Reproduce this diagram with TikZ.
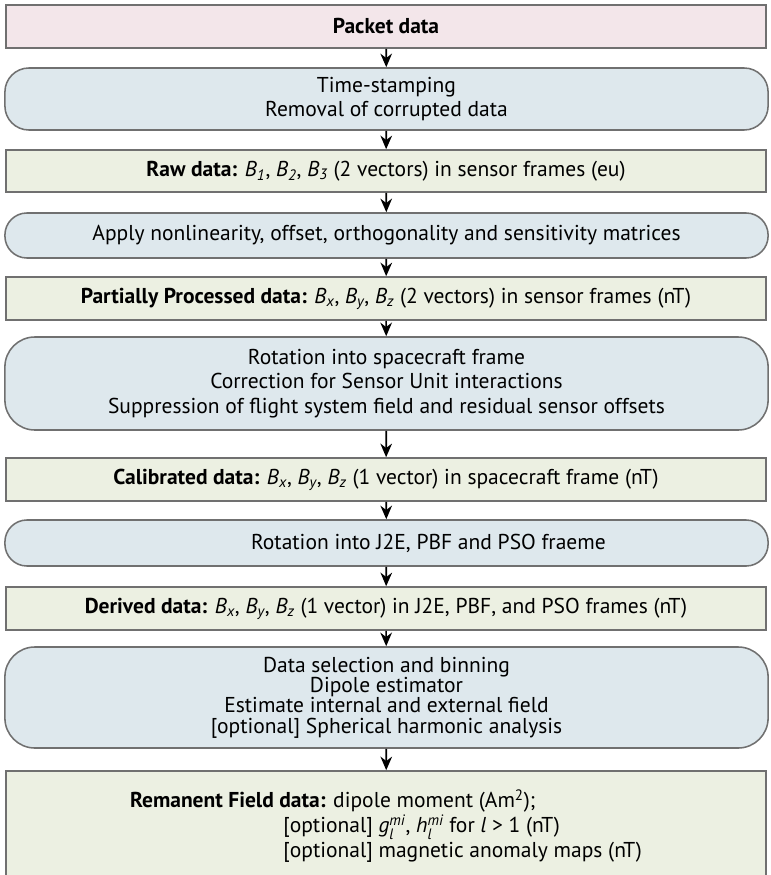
\documentclass[tikz,border=0pt]{standalone}
\usepackage{amsmath}
\usepackage{fontspec}
\setmainfont{PT Sans}
\usetikzlibrary{arrows.meta}
\definecolor{packetpink}{RGB}{243,230,234}
\definecolor{datagreen}{RGB}{236,240,226}
\definecolor{procblue}{RGB}{222,232,237}
\definecolor{boxline}{RGB}{112,112,112}
\newcommand{\vecB}[1]{\textit{B}$_{\textit{#1}}$}

\begin{document}
\begin{tikzpicture}[x=0.025cm, y=-0.025cm,
  databox/.style={draw=boxline, line width=1.1pt, fill=datagreen, minimum width=19cm, inner sep=0pt, align=center, font=\fontsize{15.3}{17.7}\selectfont},
  procbox/.style={draw=boxline, line width=1.1pt, fill=procblue, rounded corners=0.6cm, minimum width=19.075cm, inner sep=0pt, align=center, font=\fontsize{15.3}{16.5}\selectfont},
  flow/.style={-{Stealth[length=3.4mm,width=2.9mm]}, line width=1.2pt}]
\clip (0,0) rectangle (770,875);

\node[databox, fill=packetpink, minimum height=1.075cm](P0) at (386,26.5) {\textbf{Packet data}};
\node[procbox, minimum height=1.55cm](P1) at (386.5,99) {Time-stamping\\Removal of corrupted data};
\node[databox, minimum height=1.05cm](P2) at (386,171) {\textbf{Raw data:} \vecB{1}, \vecB{2}, \vecB{3} (2 vectors) in sensor frames (eu)};
\node[procbox, minimum height=1.125cm, rounded corners=0.55cm](P3) at (386.5,235.5) {Apply nonlinearity, offset, orthogonality and sensitivity matrices};
\node[databox, minimum height=1.075cm](P4) at (386,298.5) {\textbf{Partially Processed data:} \vecB{x}, \vecB{y}, \vecB{z} (2 vectors) in sensor frames (nT)};
\node[procbox, minimum height=2.325cm, rounded corners=0.75cm, font=\fontsize{15.3}{17.5}\selectfont](P5) at (386.5,383.5) {Rotation into spacecraft frame\\Correction for Sensor Unit interactions\\Suppression of flight system field and residual sensor offsets};
\node[databox, minimum height=1.075cm](P6) at (386,479.5) {\textbf{Calibrated data:} \vecB{x}, \vecB{y}, \vecB{z} (1 vector) in spacecraft frame (nT)};
\node[procbox, minimum height=1.15cm, rounded corners=0.55cm](P7) at (386.5,543) {\hspace*{2.1cm}Rotation into J2E, PBF and PSO fraeme};
\node[databox, minimum height=1.075cm](P8) at (386,608.5) {\textbf{Derived data:} \vecB{x}, \vecB{y}, \vecB{z} (1 vector) in J2E, PBF, and PSO frames (nT)};
\node[procbox, minimum height=2.525cm, rounded corners=0.75cm, font=\fontsize{15.3}{14.5}\selectfont](P9) at (386.5,697.5) {Data selection and binning\\Dipole estimator\\Estimate internal and external field\\{[optional]} Spherical harmonic analysis};
\node[databox, minimum height=2.75cm, align=left](P10) at (386,826) {\textbf{Remanent Field data:} dipole moment (Am\textsuperscript{2});\\
  \hspace*{3.83cm}{[optional]} \textit{g}$^{\textit{mi}}_{\textit{l}}$, \textit{h}$^{\textit{mi}}_{\textit{l}}$ for \textit{l} > 1 (nT)\\
  \hspace*{3.83cm}{[optional]} magnetic anomaly maps (nT)};

\draw[flow] (P0) -- (P1);
\draw[flow] (P1) -- (P2);
\draw[flow] (P2) -- (P3);
\draw[flow] (P3) -- (P4);
\draw[flow] (P4) -- (P5);
\draw[flow] (P5) -- (P6);
\draw[flow] (P6) -- (P7);
\draw[flow] (P7) -- (P8);
\draw[flow] (P8) -- (P9);
\draw[flow] (P9) -- (P10);
\end{tikzpicture}
\end{document}
